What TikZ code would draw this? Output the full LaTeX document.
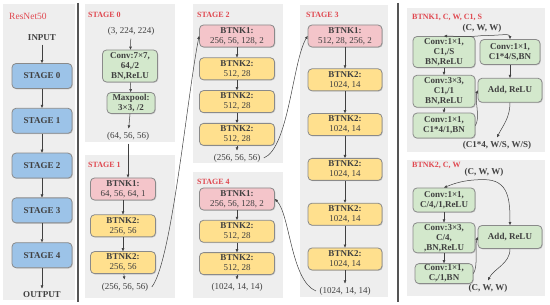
\documentclass[tikz,border=0pt]{standalone}
\usepackage{fontspec}
\setmainfont{Liberation Serif}
\usepackage{tikz}
\usetikzlibrary{arrows.meta, positioning, shadows}

\definecolor{panelgray}{HTML}{EEEEEE}
\definecolor{sepgray}{HTML}{555555}
\definecolor{edgegray}{HTML}{8A8A8A}
\definecolor{textgray}{HTML}{404040}
\definecolor{titlered}{HTML}{E04850}
\definecolor{stageblue}{HTML}{9CC3E8}
\definecolor{btnkpink}{HTML}{F4C5CA}
\definecolor{btnkyellow}{HTML}{FFE08E}
\definecolor{convgreen}{HTML}{D3E8CC}

\newcommand{\boxfont}{\fontsize{9}{10}\selectfont}
\newcommand{\headfont}{\fontsize{8}{9}\selectfont}

\tikzstyle{panel} = [fill=panelgray]
\tikzstyle{divider} = [draw=sepgray, line width=1.6pt]
\tikzstyle{boxbase} = [rectangle, rounded corners=4pt, align=center, inner sep=1pt, draw=edgegray, line width=0.8pt, font=\boxfont, drop shadow={opacity=0.35, shadow xshift=0.8pt, shadow yshift=-0.8pt}]
\tikzstyle{stagebox} = [boxbase, minimum width=60pt, minimum height=25pt, fill=stageblue, font=\boxfont\bfseries]
\tikzstyle{btnkone} = [boxbase, minimum width=75pt, minimum height=22pt, fill=btnkpink]
\tikzstyle{btnktwo} = [boxbase, minimum width=75pt, minimum height=22pt, fill=btnkyellow]
\tikzstyle{convbox} = [boxbase, fill=convgreen, font=\boxfont\bfseries]
\tikzstyle{dims} = [font=\boxfont]
\tikzstyle{headline} = [anchor=west, inner sep=0pt, text=titlered, font=\headfont\bfseries]
\tikzstyle{arrow} = [->, >={Triangle[length=3pt, width=2.6pt]}, draw=textgray, line width=0.5pt]

\begin{document}
\begin{tikzpicture}[x=1pt, y=-1pt, every node/.style={text=textgray}]
  \useasboundingbox (0,0) rectangle (550,305);

  % background panels
  \fill[panel] (3,4) rectangle (75,300);
  \fill[panel] (85,4) rectangle (175,142);
  \fill[panel] (85,155) rectangle (175,298);
  \fill[panel] (193,4) rectangle (283,163);
  \fill[panel] (193,172) rectangle (283,298);
  \fill[panel] (300,5) rectangle (388,297);
  \fill[panel] (407,8) rectangle (545,152);
  \fill[panel] (407,160) rectangle (545,296);
  \draw[divider] (78,3) -- (78,302);
  \draw[divider] (398,3) -- (398,302);

  % ResNet50 overview
  \node[headline, font=\fontsize{9.5}{10}\selectfont] (rn) at (9,16) {ResNet50};
  \node[dims, font=\boxfont\bfseries] (inp) at (42,38) {INPUT};
  \node[stagebox] (s0) at (42,76) {STAGE 0};
  \node[stagebox, below=19pt of s0] (s1) {STAGE 1};
  \node[stagebox, below=19pt of s1] (s2) {STAGE 2};
  \node[stagebox, below=19pt of s2] (s3) {STAGE 3};
  \node[stagebox, below=19pt of s3] (s4) {STAGE 4};
  \node[dims, font=\boxfont\bfseries] (outp) at (42,295) {OUTPUT};

  \draw[arrow] (inp) -- (s0);
  \draw[arrow] (s0) -- (s1);
  \draw[arrow] (s1) -- (s2);
  \draw[arrow] (s2) -- (s3);
  \draw[arrow] (s3) -- (s4);
  \draw[arrow] (s4) -- (outp);

  % stage 0
  \node[headline] (h0) at (88,15) {STAGE 0};
  \node[dims] (in0) at (131,31) {(3, 224, 224)};
  \node[convbox, minimum width=55pt, minimum height=32pt] (conv) at (130,66) {Conv:7×7,\\64,/2\\BN,ReLU};
  \node[convbox, minimum width=48pt, minimum height=21pt] (pool) at (131,103) {Maxpool:\\3×3, /2};
  \node[dims] (out0) at (128,136) {(64, 56, 56)};

  \draw[arrow] (in0) -- (conv);
  \draw[arrow] (conv) -- (pool);
  \draw[arrow] (pool) -- (out0);

  % stage 1
  \node[headline] (h1) at (88,165) {STAGE 1};
  \node[btnkone, minimum width=65pt] (b1) at (123,189) {\textbf{BTNK1:}\\64, 56, 64, 1};
  \node[btnktwo, minimum width=65pt, below=14pt of b1] (b2) {\textbf{BTNK2:}\\256, 56};
  \node[btnktwo, minimum width=65pt, below=14pt of b2] (b3) {\textbf{BTNK2:}\\256, 56};
  \node[dims] (out1) at (125,287) {(256, 56, 56)};

  \draw[arrow] (out0.south) -- (out0.south |- b1.north);
  \draw[arrow] (b1) -- (b2);
  \draw[arrow] (b2) -- (b3);
  \draw[arrow] (b3) -- (out1);

  % stage 2
  \node[headline] (h2) at (197,15) {STAGE 2};
  \node[btnkone] (c1) at (237,36) {\textbf{BTNK1:}\\256, 56, 128, 2};
  \node[btnktwo, below=10pt of c1] (c2) {\textbf{BTNK2:}\\512, 28};
  \node[btnktwo, below=10pt of c2] (c3) {\textbf{BTNK2:}\\512, 28};
  \node[btnktwo, below=10pt of c3] (c4) {\textbf{BTNK2:}\\512, 28};
  \node[dims] (out2) at (237,158) {(256, 56, 56)};

  \draw[arrow] (c1) -- (c2);
  \draw[arrow] (c2) -- (c3);
  \draw[arrow] (c3) -- (c4);
  \draw[arrow] (c4) -- (out2);

  % stage 3
  \node[headline] (h3) at (306,15) {STAGE 3};
  \node[btnkone, minimum width=74pt] (d1) at (345,36) {\textbf{BTNK1:}\\512, 28, 256, 2};
  \node[btnktwo, minimum width=74pt, below=21pt of d1] (d2) {\textbf{BTNK2:}\\1024, 14};
  \node[btnktwo, minimum width=74pt, below=22pt of d2] (d3) {\textbf{BTNK2:}\\1024, 14};
  \node[btnktwo, minimum width=74pt, below=22pt of d3] (d4) {\textbf{BTNK2:}\\1024, 14};
  \node[btnktwo, minimum width=74pt, below=22pt of d4] (d5) {\textbf{BTNK2:}\\1024, 14};
  \node[btnktwo, minimum width=74pt, below=22pt of d5] (d6) {\textbf{BTNK2:}\\1024, 14};
  \node[dims] (out3) at (345,291) {(1024, 14, 14)};

  \draw[arrow] (d1) -- (d2);
  \draw[arrow] (d2) -- (d3);
  \draw[arrow] (d3) -- (d4);
  \draw[arrow] (d4) -- (d5);
  \draw[arrow] (d5) -- (d6);
  \draw[arrow] (d6) -- (out3);

  % stage 4
  \node[headline] (h4) at (197,182) {STAGE 4};
  \node[btnkone] (e1) at (237,199) {\textbf{BTNK1:}\\256, 56, 128, 2};
  \node[btnktwo, below=9.5pt of e1] (e2) {\textbf{BTNK2:}\\512, 28};
  \node[btnktwo, below=9.5pt of e2] (e3) {\textbf{BTNK2:}\\512, 28};
  \node[dims] (out4) at (237,287) {(1024, 14, 14)};

  \draw[arrow] (e1) -- (e2);
  \draw[arrow] (e2) -- (e3);
  \draw[arrow] (e3) -- (out4);

  % links between stages
  \draw[arrow] (out1.east) .. controls +(20,-25) and +(-12,60) .. (c1.west);
  \draw[arrow] (out2.east) .. controls +(25,-10) and +(-15,25) .. (d1.west);
  \draw[arrow] (out3.west) .. controls +(-25,-10) and +(15,15) .. (e1.east);

  % BTNK1 block
  \node[headline] (hk1) at (412,17) {BTNK1, C, W, C1, S};
  \node[dims, font=\boxfont\bfseries] (ink1) at (482,28) {(C, W, W)};
  \node[convbox, minimum width=62pt, minimum height=31pt] (k1a) at (444,52) {Conv:1×1,\\C1,/S\\BN,ReLU};
  \node[convbox, minimum width=62pt, minimum height=32pt, below=7pt of k1a] (k1b) {Conv:3×3,\\C1,/1\\BN,ReLU};
  \node[convbox, minimum width=62pt, minimum height=25pt, below=5pt of k1b] (k1c) {Conv:1×1,\\C1*4/1,BN};
  \node[convbox, minimum width=60pt, minimum height=25pt] (k1d) at (510,52) {Conv:1×1,\\C1*4/S,BN};
  \node[convbox, minimum width=64pt, minimum height=24pt, below=13pt of k1d] (k1e) {Add, ReLU};
  \node[dims, font=\boxfont\bfseries] (outk1) at (497,145) {(C1*4, W/S, W/S)};

  \draw[arrow] (ink1.south) .. controls +(-20,2) and +(15,0) .. (k1a.north);
  \draw[arrow] (ink1.south) .. controls +(18,0) and +(0,-6) .. (k1d.north);
  \draw[arrow] (k1a) -- (k1b);
  \draw[arrow] (k1b) -- (k1c);
  \draw[arrow] (k1d) -- (k1e);
  \draw[arrow] (k1c.east) .. controls +(5,-8) and +(-3,10) .. (k1e.west);
  \draw[arrow] (k1e.south) .. controls +(0,15) and +(6,-12) .. (outk1.north);

  % BTNK2 block
  \node[headline] (hk2) at (412,165) {BTNK2, C, W};
  \node[dims, font=\boxfont\bfseries] (ink2) at (484,172) {(C, W, W)};
  \node[convbox, minimum width=62pt, minimum height=24pt] (k2a) at (444,200) {Conv:1×1,\\C/4,/1,ReLU};
  \node[convbox, minimum width=62pt, minimum height=30pt, below=10pt of k2a] (k2b) {Conv:3×3,\\C/4,\\,BN,ReLU};
  \node[convbox, minimum width=58pt, minimum height=20pt, below=10pt of k2b] (k2c) {Conv:1×1,\\C,/1,BN};
  \node[convbox, minimum width=64pt, minimum height=23pt] (k2e) at (510,237) {Add, ReLU};
  \node[dims, font=\boxfont\bfseries] (outk2) at (488,288) {(C, W, W)};

  \draw[arrow] (ink2.south) .. controls +(-20,0) and +(10,-4) .. (k2a.north);
  \draw[arrow] (ink2.south) .. controls +(25,0) and +(0,-25) .. (k2e.north);
  \draw[arrow] (k2a) -- (k2b);
  \draw[arrow] (k2b) -- (k2c);
  \draw[arrow] (k2c.east) .. controls +(5,-8) and +(-3,10) .. (k2e.west);
  \draw[arrow] (k2e.south) .. controls +(0,15) and +(6,-12) .. (outk2.north);
\end{tikzpicture}
\end{document}
